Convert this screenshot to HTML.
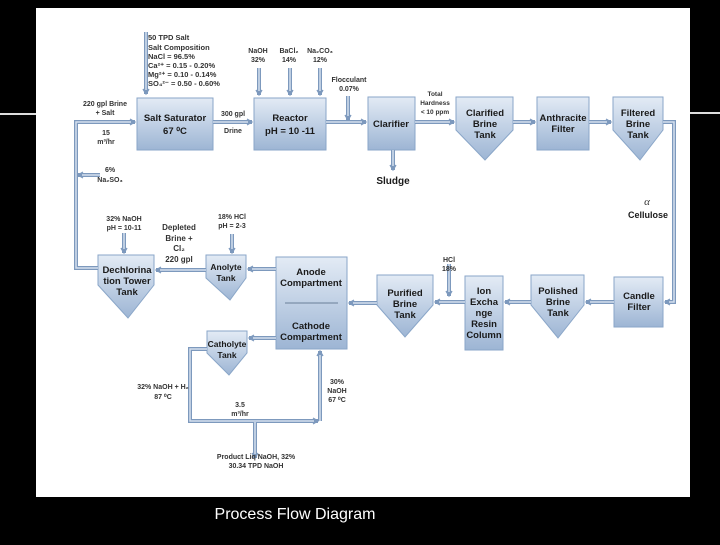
<!DOCTYPE html>
<html><head><meta charset="utf-8"><style>
body{margin:0;width:720px;height:540px;background:#000;overflow:hidden;font-family:"Liberation Sans",sans-serif}
</style></head><body>
<svg width="720" height="540" viewBox="0 0 720 540" xmlns="http://www.w3.org/2000/svg" font-family="Liberation Sans, sans-serif">
<defs>
<linearGradient id="g" x1="0" y1="0" x2="0" y2="1"><stop offset="0" stop-color="#e3ebf5"/><stop offset="1" stop-color="#9db5d4"/></linearGradient>
<marker id="a" markerWidth="8" markerHeight="8" refX="6" refY="4" orient="auto" markerUnits="userSpaceOnUse"><path d="M1,1 L6,4 L1,7" fill="none" stroke="#7d99bd" stroke-width="1.3"/></marker>
</defs>
<rect x="0" y="113" width="36" height="2" fill="#ddd"/>
<rect x="690" y="112" width="30" height="2" fill="#ddd"/>
<rect x="36" y="8" width="654" height="489" fill="#fff"/>
<g fill="url(#g)" stroke="#8aa6c8" stroke-width="1">
<rect x="137" y="98" width="76" height="52"/>
<rect x="254" y="98" width="72" height="52"/>
<rect x="368" y="97" width="47" height="53"/>
<polygon points="456,97 513,97 513,130 485,160 456,130"/>
<rect x="537" y="97" width="52" height="53"/>
<polygon points="613,97 663,97 663,130 640,160 613,130"/>
<rect x="614" y="277" width="49" height="50"/>
<polygon points="531,275 584,275 584,305 558,338 531,305"/>
<rect x="465" y="276" width="38" height="74"/>
<polygon points="377,275 433,275 433,305 405,337 377,305"/>
<rect x="276" y="257" width="71" height="92"/>
<polygon points="206,255 246,255 246,278 230,300 206,278"/>
<polygon points="207,331 247,331 247,353 229,375 207,353"/>
<polygon points="98,255 154,255 154,285 128,318 98,285"/>
</g>
<line x1="285" y1="303" x2="338" y2="303" stroke="#6a7f99" stroke-width="1"/>
<g fill="none" stroke="#7d99bd" stroke-width="4" marker-end="url(#a)">
<path d="M146,32 V94"/>
<path d="M259,68 V95"/><path d="M290,68 V95"/><path d="M320,68 V95"/>
<path d="M348,96 V120"/>
<path d="M213,122 H252"/><path d="M326,122 H366"/><path d="M415,122 H454"/>
<path d="M513,122 H535"/><path d="M589,122 H611"/>
<path d="M663,122 H674 V302 H665"/>
<path d="M393,150 V170"/>
<path d="M614,302 H586"/><path d="M531,302 H505"/><path d="M465,302 H435"/>
<path d="M449,264 V296"/>
<path d="M377,303 H349"/>
<path d="M276,269 H248"/><path d="M206,270 H156"/>
<path d="M98,268 H76 V122 H135"/>
<path d="M100,175 H78"/>
<path d="M124,233 V253"/><path d="M232,234 V253"/>
<path d="M276,338 H249"/>
<path d="M207,349 H190 V421 H318"/>
<path d="M320,421 V351"/>
<path d="M255,422 V458"/>
</g>
<g fill="none" stroke="#d5e0ee" stroke-width="1.5">
<path d="M146,32 V90"/><path d="M259,68 V91"/><path d="M290,68 V91"/><path d="M320,68 V91"/><path d="M348,96 V116"/>
<path d="M213,122 H248"/><path d="M326,122 H362"/><path d="M415,122 H450"/><path d="M513,122 H531"/><path d="M589,122 H607"/>
<path d="M663,122 H674 V302 H669"/><path d="M393,150 V166"/>
<path d="M614,302 H590"/><path d="M531,302 H509"/><path d="M465,302 H439"/><path d="M449,264 V292"/><path d="M377,303 H353"/>
<path d="M276,269 H252"/><path d="M206,270 H160"/><path d="M98,268 H76 V122 H131"/><path d="M100,175 H82"/>
<path d="M124,233 V249"/><path d="M232,234 V249"/><path d="M276,338 H253"/><path d="M207,349 H190 V421 H314"/><path d="M320,421 V355"/><path d="M255,422 V454"/>
</g>
<g font-weight="bold" font-size="9.5" fill="#1a1a1a" text-anchor="middle">
<text x="175" y="121">Salt Saturator</text><text x="175" y="134">67 ⁰C</text>
<text x="290" y="121">Reactor</text><text x="290" y="134">pH = 10 -11</text>
<text x="391" y="127">Clarifier</text>
<text x="485" y="116">Clarified</text><text x="485" y="127">Brine</text><text x="485" y="138">Tank</text>
<text x="563" y="121">Anthracite</text><text x="563" y="132">Filter</text>
<text x="638" y="116">Filtered</text><text x="638" y="127">Brine</text><text x="638" y="138">Tank</text>
<text x="639" y="299">Candle</text><text x="639" y="310">Filter</text>
<text x="558" y="294">Polished</text><text x="558" y="305">Brine</text><text x="558" y="316">Tank</text>
<text x="484" y="294">Ion</text><text x="484" y="305">Excha</text><text x="484" y="316">nge</text><text x="484" y="327">Resin</text><text x="484" y="338">Column</text>
<text x="405" y="296">Purified</text><text x="405" y="307">Brine</text><text x="405" y="318">Tank</text>
<text x="311" y="275">Anode</text><text x="311" y="286">Compartment</text>
<text x="311" y="329">Cathode</text><text x="311" y="340">Compartment</text>
<text x="226" y="270" font-size="8.5">Anolyte</text><text x="226" y="281" font-size="8.5">Tank</text>
<text x="227" y="347" font-size="8.5">Catholyte</text><text x="227" y="358" font-size="8.5">Tank</text>
<text x="127" y="273">Dechlorina</text><text x="127" y="284">tion Tower</text><text x="127" y="295">Tank</text>
<text x="393" y="184" font-size="10">Sludge</text>
<text x="648" y="218" font-size="9">Cellulose</text>
</g>
<g font-size="7.5" font-weight="bold" fill="#333">
<text x="148" y="40">50 TPD Salt</text><text x="148" y="50">Salt Composition</text>
<text x="148" y="59">NaCl  = 96.5%</text><text x="148" y="68">Ca²⁺  = 0.15 - 0.20%</text>
<text x="148" y="77">Mg²⁺  = 0.10 - 0.14%</text><text x="148" y="86">SO₄²⁻ = 0.50 - 0.60%</text>
</g>
<g font-size="7" font-weight="bold" fill="#333" text-anchor="middle">
<text x="258" y="53">NaOH</text><text x="258" y="62">32%</text>
<text x="289" y="53">BaCl₂</text><text x="289" y="62">14%</text>
<text x="320" y="53">Na₂CO₃</text><text x="320" y="62">12%</text>
<text x="349" y="82">Flocculant</text><text x="349" y="91">0.07%</text>
<text x="105" y="106">220 gpl Brine</text><text x="105" y="115">+ Salt</text>
<text x="106" y="135">15</text><text x="106" y="144">m³/hr</text>
<text x="233" y="116">300 gpl</text><text x="233" y="133">Drine</text>
<text x="435" y="96" font-size="6.5">Total</text><text x="435" y="105" font-size="6.5">Hardness</text><text x="435" y="114" font-size="6.5">&lt; 10 ppm</text>
<text x="110" y="172">6%</text><text x="110" y="182">Na₂SO₃</text>
<text x="124" y="221">32% NaOH</text><text x="124" y="230">pH = 10-11</text>
<text x="179" y="230" font-size="8">Depleted</text><text x="179" y="241" font-size="8">Brine +</text><text x="179" y="251" font-size="8">Cl₂</text><text x="179" y="262" font-size="8">220 gpl</text>
<text x="232" y="219">18% HCl</text><text x="232" y="228">pH = 2-3</text>
<text x="449" y="262">HCl</text><text x="449" y="271">18%</text>
<text x="163" y="389">32% NaOH + H₂</text><text x="163" y="399">87 ⁰C</text>
<text x="240" y="407">3.5</text><text x="240" y="416">m³/hr</text>
<text x="337" y="384">30%</text><text x="337" y="393">NaOH</text><text x="337" y="402">67 ⁰C</text>
<text x="256" y="459">Product Liq NaOH, 32%</text><text x="256" y="468">30.34 TPD NaOH</text>
</g>
<text x="647" y="205" font-size="11" font-style="italic" fill="#333" text-anchor="middle" font-family="Liberation Serif, serif">α</text>
<text x="295" y="519" font-size="16" fill="#fff" text-anchor="middle">Process Flow Diagram</text>
</svg>
</body></html>
